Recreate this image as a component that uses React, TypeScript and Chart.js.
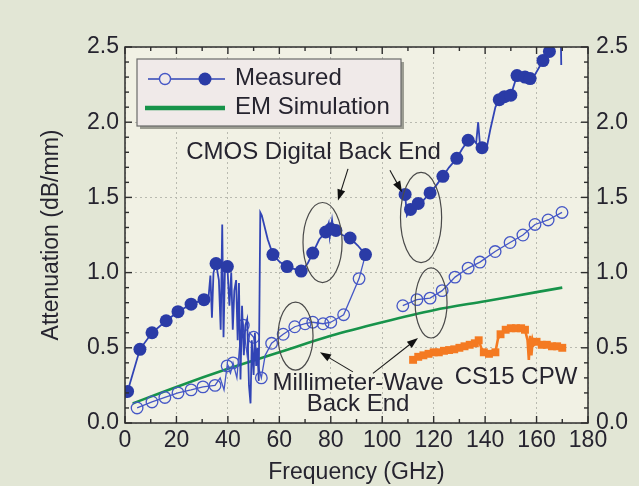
import React, { useEffect, useRef } from "react";
import { Chart, registerables } from "chart.js";

Chart.register(...registerables);

// ---------- DATA ----------
const X_TICK_STEP = 20;
const Y_TICK_STEP = 0.5;

// CMOS digital back end (filled circles), low band
const cmosLowMarkers: [number, number][] = [
  [1, 0.21], [5.8, 0.49], [10.5, 0.6], [16, 0.68], [20.6, 0.74], [25.7, 0.79], [30.7, 0.82],
  [35.4, 1.06], [39.8, 1.04], [57.5, 1.12], [63, 1.04], [68.5, 1.01], [73, 1.13], [78, 1.27],
  [80, 1.29], [82, 1.28], [87.5, 1.23], [93.5, 1.12],
];
const cmosLowTrace: [number, number][] = [
  [32.5, 0.84], [33.2, 0.98], [33.8, 0.7], [34.4, 1.0], [36.5, 0.95], [37.2, 0.62], [37.8, 1.32],
  [38.3, 0.57], [38.9, 1.05], [40.6, 0.78], [41.3, 1.0], [41.9, 0.62], [42.5, 0.88], [43.2, 0.95],
  [43.8, 0.55], [44.3, 0.93], [44.9, 0.29], [45.5, 0.78], [46.2, 0.45], [46.8, 0.65], [47.5, 0.69],
  [48.2, 0.25], [48.8, 0.13], [49.3, 0.55], [50.0, 0.32], [50.5, 0.6], [51.0, 0.38], [51.5, 0.5],
  [52.0, 0.28], [52.6, 1.4], [53.2, 1.38], [55.5, 1.22], [60.2, 1.07], [71, 1.06], [75.5, 1.22],
  [79.2, 1.33], [79.6, 1.24], [80.5, 1.35], [81.2, 1.26], [84.5, 1.25], [90.5, 1.18],
];

// CMOS digital back end, high band
const cmosHighMarkers: [number, number][] = [
  [108.9, 1.52], [111, 1.42], [114, 1.46], [118.6, 1.53], [123.6, 1.64], [129, 1.76], [133.4, 1.88],
  [138.8, 1.83], [145.5, 2.15], [147.5, 2.17], [150, 2.18], [152.4, 2.31], [155.5, 2.3],
  [157.5, 2.29], [162.5, 2.41], [165, 2.47],
];
const cmosHighTrace: [number, number][] = [
  [109.6, 1.38], [116, 1.48], [121, 1.58], [126, 1.7], [131, 1.82], [135, 1.89], [136.5, 1.86],
  [137.3, 2.0], [138, 1.85], [140.5, 1.82], [142, 1.95], [144, 2.1], [159.5, 2.32],
  [166.5, 2.52], [168, 2.55], [169.5, 2.5], [169.6, 2.38],
];

// Millimeter-wave back end (open circles)
const mmLowMarkers: [number, number][] = [
  [4.7, 0.1], [10.5, 0.14], [15.5, 0.17], [20.6, 0.2], [25.7, 0.22], [30.3, 0.24], [35, 0.25],
  [39.7, 0.38], [42, 0.4], [46, 0.65], [50, 0.57], [53, 0.3], [57, 0.53], [61.5, 0.59],
  [66, 0.64], [70, 0.66], [73, 0.67], [77, 0.66], [80, 0.67], [85, 0.72], [91, 0.96],
];
const mmLowTrace: [number, number][] = [
  [37, 0.3], [38.5, 0.22], [41, 0.33], [43.5, 0.3], [44.5, 0.5], [47.5, 0.45], [48.5, 0.6],
  [51.5, 0.4], [54.5, 0.45], [88, 0.84], [93.5, 1.12],
];
const mmHighMarkers: [number, number][] = [
  [108, 0.78], [113.5, 0.82], [118.6, 0.83], [123.3, 0.88], [128.3, 0.97], [133.4, 1.03],
  [138, 1.07], [143.9, 1.14], [149.7, 1.2], [154.7, 1.25], [159.4, 1.32], [164.5, 1.35],
  [169.9, 1.4],
];

// EM simulation
const emSim: [number, number][] = [
  [3, 0.13], [20, 0.24], [40, 0.36], [60, 0.47], [80, 0.58], [100, 0.67], [120, 0.75],
  [140, 0.81], [160, 0.87], [170, 0.9],
];

// CS15 CPW
const cs15Markers: [number, number][] = [
  [112, 0.42], [114, 0.44], [116, 0.45], [118, 0.46], [120, 0.47], [122, 0.47], [124, 0.48],
  [126, 0.485], [128, 0.49], [130, 0.5], [132, 0.51], [134, 0.52], [136, 0.53], [137.5, 0.55],
  [139.5, 0.47], [141.5, 0.46], [144, 0.47], [146, 0.59], [148, 0.62], [150, 0.63], [152, 0.63],
  [154, 0.63], [155.5, 0.62], [160, 0.54], [162, 0.52], [164, 0.52], [166, 0.51], [168, 0.51],
  [170, 0.5],
];
const cs15Trace: [number, number][] = [
  [138.5, 0.5], [140.5, 0.48], [142.5, 0.47], [145, 0.56], [156.5, 0.55], [157, 0.42],
  [157.5, 0.58], [158, 0.45], [158.5, 0.55], [159, 0.52], [161, 0.53],
];

// ---------- STYLE ----------
const FONT = "'Liberation Sans', Arial, Helvetica, sans-serif";
const OUTER_BG = "#e2e6d5";
const PLOT_BG = "#f1f1e4";
const TEXT = "#26242f";
const GRID = "#b9bab0";
const BLUE = "#2a3ba6";
const LINE_BLUE = "#3144b5";
const OPEN_BLUE = "#4557c6";
const GREEN = "#17934a";
const ORANGE = "#f47a22";

const pts = (a: [number, number][]) => a.map(([x, y]) => ({ x, y }));
const merge = (...arrs: [number, number][][]) =>
  pts(arrs.flat().slice().sort((p, q) => p[0] - q[0]));

const decorPlugin = {
  id: "decor",
  beforeDraw(chart: any) {
    const { ctx, chartArea: ca, width, height } = chart;
    ctx.save();
    ctx.fillStyle = OUTER_BG;
    ctx.fillRect(0, 0, width, height);
    ctx.fillStyle = PLOT_BG;
    ctx.fillRect(ca.left, ca.top, ca.right - ca.left, ca.bottom - ca.top);
    ctx.restore();
  },
  afterDraw(chart: any) {
    const { ctx, chartArea: ca, scales } = chart;
    const xs = scales.x;
    const ys = scales.y;
    const X = (f: number) => xs.getPixelForValue(f);
    const Y = (v: number) => ys.getPixelForValue(v);
    ctx.save();

    const seg = (x1: number, y1: number, x2: number, y2: number) => {
      ctx.beginPath();
      ctx.moveTo(x1, y1);
      ctx.lineTo(x2, y2);
      ctx.stroke();
    };

    // frame
    ctx.strokeStyle = "#2e2e2e";
    ctx.lineWidth = 1.5;
    ctx.strokeRect(ca.left, ca.top, ca.right - ca.left, ca.bottom - ca.top);
    // inward ticks
    ctx.lineWidth = 1.4;
    for (let f = 0; f <= 180; f += 10) {
      const px = X(f);
      const len = f % 20 === 0 ? 7 : 4;
      seg(px, ca.bottom, px, ca.bottom - len);
      seg(px, ca.top, px, ca.top + len);
    }
    for (let i = 0; i <= 25; i++) {
      const py = Y(i / 10);
      const len = i % 5 === 0 ? 7 : 4;
      seg(ca.left, py, ca.left + len, py);
      seg(ca.right, py, ca.right - len, py);
    }

    // ellipses (data coordinates)
    const ell = (f: number, v: number, rf: number, rv: number) => {
      const cx = X(f), cy = Y(v);
      const rx = Math.abs(X(f + rf) - cx), ry = Math.abs(Y(v + rv) - cy);
      ctx.beginPath();
      ctx.ellipse(cx, cy, rx, ry, 0, 0, Math.PI * 2);
      ctx.stroke();
    };
    ctx.strokeStyle = "#4a4a4a";
    ctx.lineWidth = 1.2;
    ell(76.8, 1.2, 7.6, 0.266);
    ell(115.1, 1.366, 8.0, 0.3);
    ell(66.3, 0.578, 6.8, 0.226);
    ell(119, 0.798, 6.2, 0.233);

    // arrows
    const arrow = (f1: number, v1: number, f2: number, v2: number) => {
      const x1 = X(f1), y1 = Y(v1), x2 = X(f2), y2 = Y(v2);
      const a = Math.atan2(y2 - y1, x2 - x1);
      ctx.strokeStyle = "#1a1a1a";
      ctx.fillStyle = "#111";
      ctx.lineWidth = 1.1;
      seg(x1, y1, x2 - 6 * Math.cos(a), y2 - 6 * Math.sin(a));
      ctx.beginPath();
      ctx.moveTo(x2, y2);
      ctx.lineTo(x2 - 11 * Math.cos(a) + 4 * Math.sin(a), y2 - 11 * Math.sin(a) - 4 * Math.cos(a));
      ctx.lineTo(x2 - 11 * Math.cos(a) - 4 * Math.sin(a), y2 - 11 * Math.sin(a) + 4 * Math.cos(a));
      ctx.closePath();
      ctx.fill();
    };
    arrow(86.7, 1.69, 82.8, 1.48);
    arrow(103, 1.68, 107.7, 1.535);
    arrow(88.6, 0.34, 75.8, 0.47);
    arrow(96.4, 0.33, 113.9, 0.565);

    // annotation texts
    ctx.fillStyle = TEXT;
    ctx.font = `24px ${FONT}`;
    ctx.textAlign = "center";
    ctx.textBaseline = "middle";
    ctx.fillText("CMOS Digital Back End", X(73.3), Y(1.8));
    ctx.fillText("Millimeter-Wave", X(90.6), Y(0.266));
    ctx.fillText("Back End", X(90.6), Y(0.126));
    ctx.fillText("CS15 CPW", X(152), Y(0.306));

    // legend box
    const lx = ca.left + 12, ly = ca.top + 12, lw = 264, lh = 67;
    ctx.fillStyle = "#9c9d92";
    ctx.fillRect(lx + 3, ly + 3, lw, lh);
    ctx.fillStyle = "#f0eae9";
    ctx.fillRect(lx, ly, lw, lh);
    ctx.strokeStyle = "#6a6a6a";
    ctx.lineWidth = 1.2;
    ctx.strokeRect(lx, ly, lw, lh);
    // Measured
    const r1 = ly + 20;
    ctx.strokeStyle = LINE_BLUE;
    ctx.lineWidth = 1.6;
    seg(lx + 11, r1, lx + 88, r1);
    ctx.fillStyle = "#f0eae9";
    ctx.strokeStyle = OPEN_BLUE;
    ctx.lineWidth = 1.4;
    ctx.beginPath();
    ctx.arc(lx + 28, r1, 5.5, 0, Math.PI * 2);
    ctx.fill();
    ctx.stroke();
    ctx.fillStyle = BLUE;
    ctx.beginPath();
    ctx.arc(lx + 68, r1, 6.5, 0, Math.PI * 2);
    ctx.fill();
    // EM
    const r2 = ly + 49;
    ctx.strokeStyle = GREEN;
    ctx.lineWidth = 4.5;
    seg(lx + 8, r2, lx + 88, r2);
    ctx.fillStyle = TEXT;
    ctx.textAlign = "left";
    ctx.fillText("Measured", lx + 98, r1 - 1);
    ctx.fillText("EM Simulation", lx + 98, r2 - 1);

    ctx.restore();
  },
};

export default function App() {
  const ref = useRef<HTMLCanvasElement | null>(null);

  useEffect(() => {
    document.body.style.margin = "0";
    if (!ref.current) return;
    Chart.defaults.font.family = FONT;
    const tickFont = { size: 23, family: FONT };
    const chart = new Chart(ref.current, {
      type: "line",
      data: {
        datasets: [
          {
            label: "CMOS low markers",
            data: pts(cmosLowMarkers),
            showLine: false,
            pointRadius: 6.5,
            pointBackgroundColor: BLUE,
            pointBorderColor: BLUE,
            pointBorderWidth: 0,
          },
          {
            label: "CMOS high markers",
            data: pts(cmosHighMarkers),
            showLine: false,
            pointRadius: 6.5,
            pointBackgroundColor: BLUE,
            pointBorderColor: BLUE,
            pointBorderWidth: 0,
          },
          {
            label: "CMOS low",
            data: merge(cmosLowMarkers, cmosLowTrace),
            borderColor: LINE_BLUE,
            borderWidth: 1.8,
            pointRadius: 0,
            tension: 0,
          },
          {
            label: "CMOS high",
            data: merge(cmosHighMarkers, cmosHighTrace),
            borderColor: LINE_BLUE,
            borderWidth: 1.8,
            pointRadius: 0,
            tension: 0,
          },
          {
            label: "mm markers",
            data: pts([...mmLowMarkers, ...mmHighMarkers]),
            showLine: false,
            pointRadius: 5.8,
            pointBackgroundColor: "rgba(0,0,0,0)",
            pointBorderColor: OPEN_BLUE,
            pointBorderWidth: 1.3,
          },
          {
            label: "mm low",
            data: merge(mmLowMarkers, mmLowTrace),
            borderColor: OPEN_BLUE,
            borderWidth: 1.3,
            pointRadius: 0,
            tension: 0,
          },
          {
            label: "mm high",
            data: pts(mmHighMarkers),
            borderColor: OPEN_BLUE,
            borderWidth: 1.3,
            pointRadius: 0,
            tension: 0,
          },
          {
            label: "EM Simulation",
            data: pts(emSim),
            borderColor: GREEN,
            borderWidth: 2.6,
            pointRadius: 0,
            cubicInterpolationMode: "monotone",
          },
          {
            label: "CS15 CPW",
            data: merge(cs15Markers, cs15Trace),
            borderColor: ORANGE,
            borderWidth: 2.6,
            pointRadius: 0,
            tension: 0,
          },
          {
            label: "CS15 markers",
            data: pts(cs15Markers),
            showLine: false,
            pointStyle: "rect",
            pointRadius: 5.6,
            pointBackgroundColor: ORANGE,
            pointBorderWidth: 0,
          },
        ],
      },
      options: {
        animation: false,
        responsive: false,
        devicePixelRatio: 1,
        layout: { padding: { top: 47, left: 0, right: 0, bottom: 0 } },
        plugins: { legend: { display: false }, tooltip: { enabled: false } },
        scales: {
          x: {
            type: "linear",
            min: 0,
            max: 180,
            afterFit: (s: any) => {
              s.height = 63;
            },
            ticks: {
              stepSize: X_TICK_STEP,
              font: tickFont,
              color: TEXT,
              padding: 4,
              maxRotation: 0,
              autoSkip: false,
            },
            grid: { color: GRID, drawTicks: false, lineWidth: 1 },
            border: { display: false, dash: [2, 3] },
            title: {
              display: true,
              text: "Frequency (GHz)",
              font: { size: 23, family: FONT },
              color: TEXT,
              padding: { top: 0, bottom: 0 },
            },
          },
          y: {
            type: "linear",
            position: "left",
            min: 0,
            max: 2.5,
            afterFit: (s: any) => {
              s.width = 125;
            },
            ticks: {
              stepSize: Y_TICK_STEP,
              font: tickFont,
              color: TEXT,
              padding: 6,
              callback: (v: any) => Number(v).toFixed(1),
            },
            grid: { color: GRID, drawTicks: false, lineWidth: 1 },
            border: { display: false, dash: [2, 3] },
            title: {
              display: true,
              text: "Attenuation (dB/mm)",
              font: { size: 23, family: FONT },
              color: TEXT,
              padding: { top: 38, bottom: 0 },
            },
          },
          y2: {
            type: "linear",
            position: "right",
            min: 0,
            max: 2.5,
            afterFit: (s: any) => {
              s.width = 51;
            },
            ticks: {
              stepSize: Y_TICK_STEP,
              font: tickFont,
              color: TEXT,
              padding: 8,
              callback: (v: any) => Number(v).toFixed(1),
            },
            grid: { display: false, drawOnChartArea: false, drawTicks: false },
            border: { display: false },
          },
        },
      },
      plugins: [decorPlugin],
    } as any);
    return () => chart.destroy();
  }, []);

  return (
    <div style={{ position: "absolute", left: 0, top: 0, width: 639, height: 486, background: OUTER_BG }}>
      <canvas ref={ref} width={639} height={486} style={{ display: "block", width: 639, height: 486 }} />
    </div>
  );
}
